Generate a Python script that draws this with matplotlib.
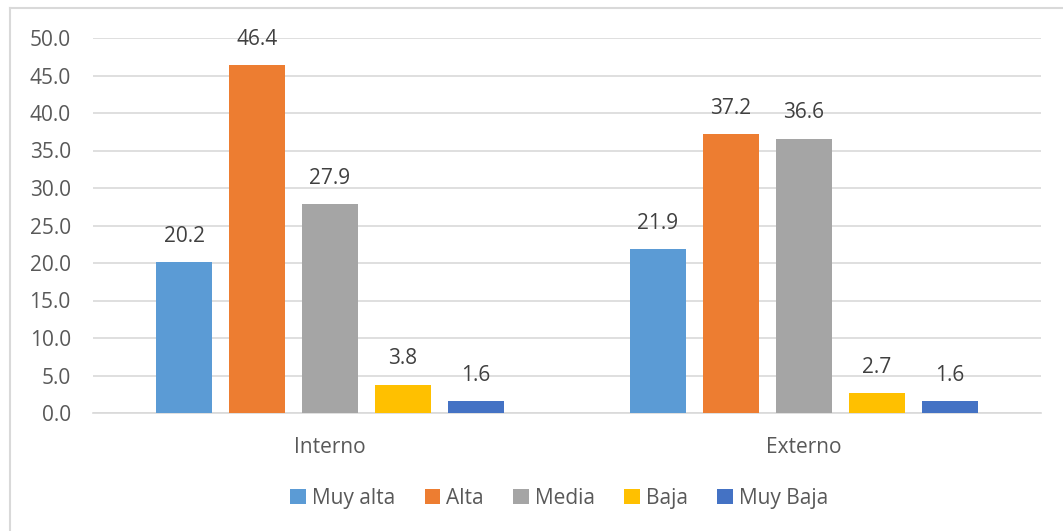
import matplotlib.pyplot as plt
from matplotlib.lines import Line2D
import numpy as np

plt.rcParams['font.family'] = ['Open Sans', 'DejaVu Sans']

categorias = ['Interno', 'Externo']
series = ['Muy alta', 'Alta', 'Media', 'Baja', 'Muy Baja']
valores = [
    [20.2, 21.9],
    [46.4, 37.2],
    [27.9, 36.6],
    [3.8, 2.7],
    [1.6, 1.6],
]
colores = ['#5B9BD5', '#ED7D31', '#A5A5A5', '#FFC000', '#4472C4']
gris = '#595959'

fig = plt.figure(figsize=(10.63, 5.31), dpi=100)
W, H = 1063, 531
# borde del cuadro (solo arriba e izquierda visibles)
fig.add_artist(Line2D([10 / W, 10 / W], [0, 1 - 8 / H], transform=fig.transFigure,
                      color='#D9D9D9', linewidth=1.5))
fig.add_artist(Line2D([10 / W, 1], [1 - 8 / H, 1 - 8 / H], transform=fig.transFigure,
                      color='#D9D9D9', linewidth=1.5))

ax = fig.add_axes([93 / W, 118 / H, 948 / W, 375 / H])

x = np.arange(len(categorias))
paso = 0.154
ancho = 0.12
for i, (s, v) in enumerate(zip(series, valores)):
    pos = x + (i - 2) * paso
    barras = ax.bar(pos, v, ancho, color=colores[i], label=s, zorder=3)
    for b, val in zip(barras, v):
        ax.text(b.get_x() + b.get_width() / 2, val + 2.0, f'{val:.1f}',
                ha='center', va='bottom', fontsize=15, color='#404040')

ax.set_xlim(-0.5, 1.5)
ax.set_ylim(0, 50)
ax.set_yticks(np.arange(0, 51, 5))
ax.set_yticklabels([f'{t:.1f}' for t in np.arange(0, 51, 5)])
ax.set_xticks(x)
ax.set_xticklabels(categorias)
ax.yaxis.grid(True, color='#D9D9D9', linewidth=1.2, zorder=0)
for s in ['top', 'right', 'left']:
    ax.spines[s].set_visible(False)
ax.spines['bottom'].set_color('#D9D9D9')
ax.spines['bottom'].set_linewidth(1.2)
ax.tick_params(axis='both', length=0, labelsize=15, colors=gris)
ax.tick_params(axis='y', pad=16)
ax.tick_params(axis='x', pad=17)

ax.legend(loc='center', bbox_to_anchor=(0.492, -0.228), ncol=5, frameon=False,
          fontsize=15, labelcolor=gris, handlelength=0.75, handleheight=0.75,
          handletextpad=0.3, columnspacing=1.4)

fig.savefig('out.png', dpi=100)
